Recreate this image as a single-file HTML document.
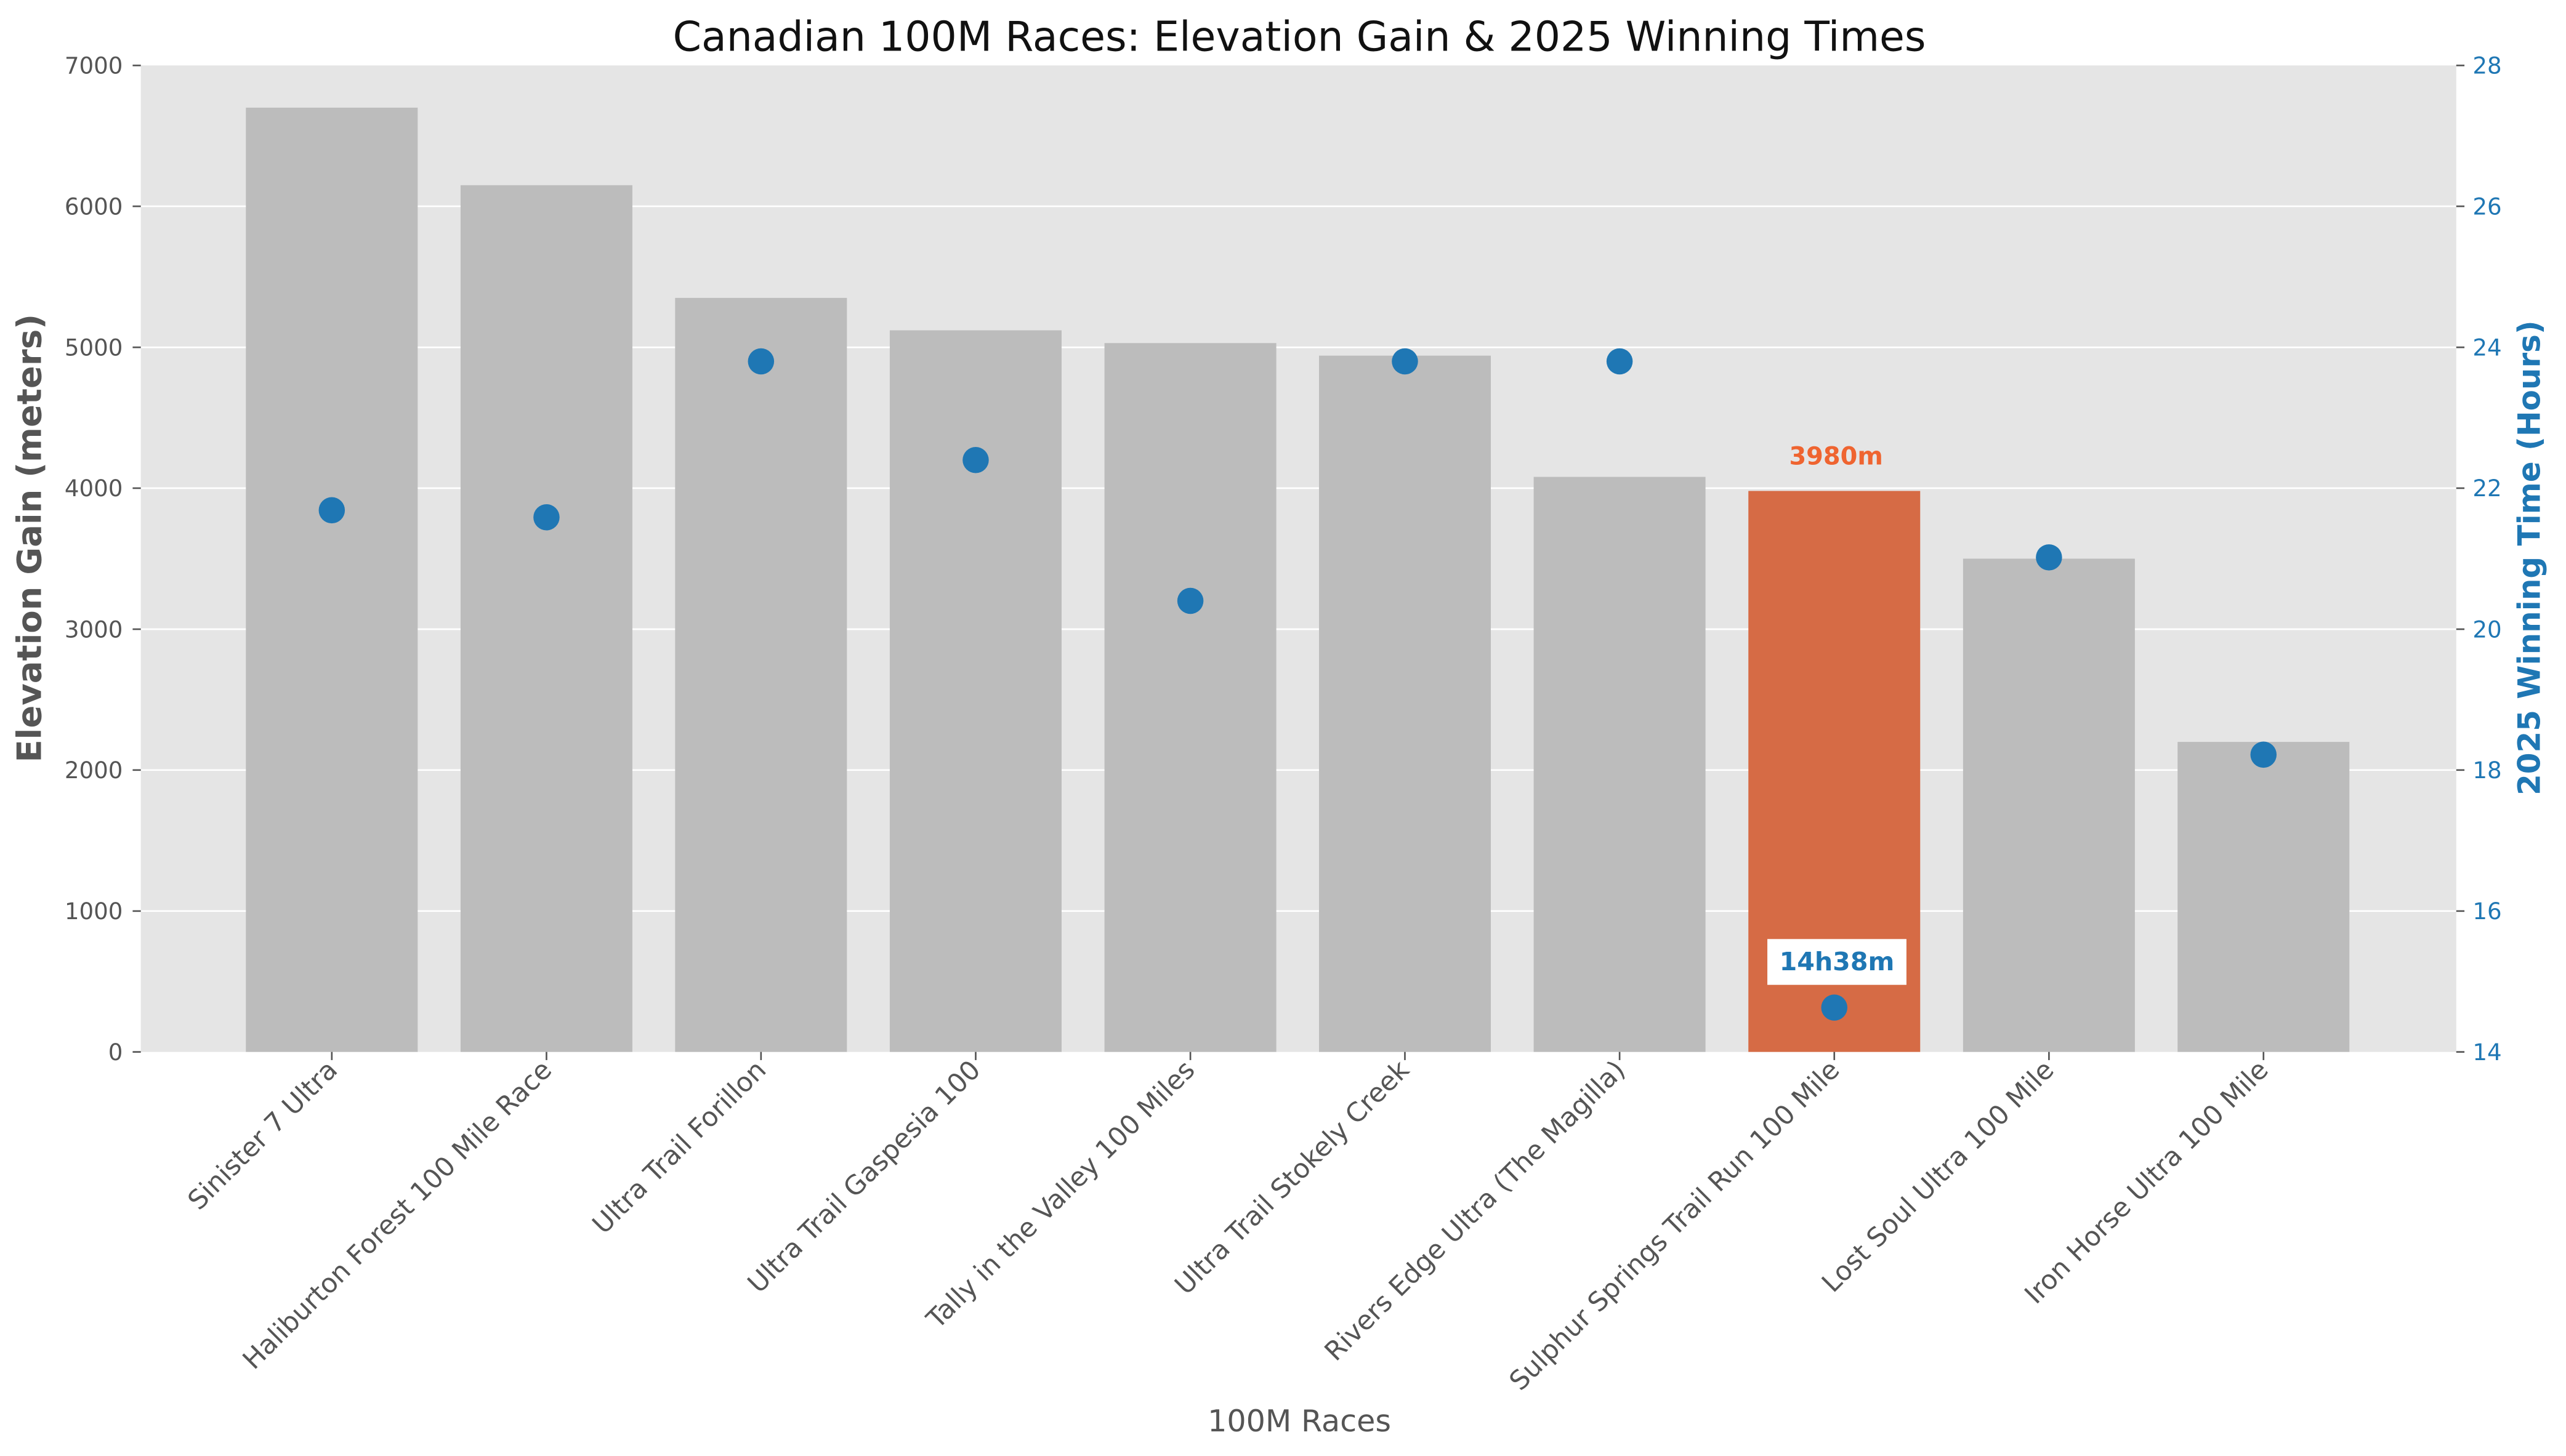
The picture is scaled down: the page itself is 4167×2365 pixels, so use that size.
<!DOCTYPE html>
<html><head><meta charset="utf-8"><style>html,body{margin:0;padding:0;background:#fff}svg{display:block}</style></head>
<body>
<svg width="4167" height="2365" viewBox="0 0 1568 890" xmlns="http://www.w3.org/2000/svg" font-family="DejaVu Sans, Liberation Sans, sans-serif">
<rect width="1568" height="890" fill="#fff"/>
<rect x="86" y="40" width="1415" height="603" fill="#e5e5e5"/>
<g stroke="#fff" stroke-width="1">
<line x1="86" x2="1501" y1="556.9" y2="556.9"/>
<line x1="86" x2="1501" y1="470.7" y2="470.7"/>
<line x1="86" x2="1501" y1="384.6" y2="384.6"/>
<line x1="86" x2="1501" y1="298.4" y2="298.4"/>
<line x1="86" x2="1501" y1="212.3" y2="212.3"/>
<line x1="86" x2="1501" y1="126.1" y2="126.1"/>
</g>
<g fill="#bcbcbc">
<rect x="150.2" y="65.8" width="105" height="577.2"/>
<rect x="281.4" y="113.2" width="105" height="529.8"/>
<rect x="412.5" y="182.1" width="105" height="460.9"/>
<rect x="543.7" y="201.9" width="105" height="441.1"/>
<rect x="674.9" y="209.7" width="105" height="433.3"/>
<rect x="806.0" y="217.4" width="105" height="425.6"/>
<rect x="937.2" y="291.5" width="105" height="351.5"/>
<rect x="1199.6" y="341.5" width="105" height="301.5"/>
<rect x="1330.7" y="453.5" width="105" height="189.5"/>
</g>
<rect x="1068.4" y="300.1" width="105" height="342.9" fill="#d66b45"/>
<text x="1122" y="284" text-anchor="middle" font-size="15" font-weight="bold" fill="#ef6430">3980m</text>
<rect x="1080" y="574" width="85" height="28" fill="#fff"/>
<text x="1122.5" y="593" text-anchor="middle" font-size="15.5" font-weight="bold" fill="#1f77b4">14h38m</text>
<g fill="#1f77b4">
<circle cx="202.7" cy="311.9" r="8"/>
<circle cx="333.9" cy="316.2" r="8"/>
<circle cx="465.0" cy="220.9" r="8"/>
<circle cx="596.2" cy="281.2" r="8"/>
<circle cx="727.4" cy="367.3" r="8"/>
<circle cx="858.5" cy="220.9" r="8"/>
<circle cx="989.7" cy="220.9" r="8"/>
<circle cx="1120.9" cy="615.9" r="8"/>
<circle cx="1252.1" cy="340.7" r="8"/>
<circle cx="1383.2" cy="461.3" r="8"/>
</g>
<g stroke="#555" stroke-width="1">
<line x1="81" x2="86" y1="643" y2="643"/><line x1="81" x2="86" y1="556.9" y2="556.9"/><line x1="81" x2="86" y1="470.7" y2="470.7"/><line x1="81" x2="86" y1="384.6" y2="384.6"/><line x1="81" x2="86" y1="298.4" y2="298.4"/><line x1="81" x2="86" y1="212.3" y2="212.3"/><line x1="81" x2="86" y1="126.1" y2="126.1"/><line x1="81" x2="86" y1="40" y2="40"/>
<line x1="1501" x2="1506" y1="643" y2="643"/><line x1="1501" x2="1506" y1="556.9" y2="556.9"/><line x1="1501" x2="1506" y1="470.7" y2="470.7"/><line x1="1501" x2="1506" y1="384.6" y2="384.6"/><line x1="1501" x2="1506" y1="298.4" y2="298.4"/><line x1="1501" x2="1506" y1="212.3" y2="212.3"/><line x1="1501" x2="1506" y1="126.1" y2="126.1"/><line x1="1501" x2="1506" y1="40" y2="40"/>
<line y1="643" y2="648" x1="202.7" x2="202.7"/><line y1="643" y2="648" x1="333.9" x2="333.9"/><line y1="643" y2="648" x1="465.0" x2="465.0"/><line y1="643" y2="648" x1="596.2" x2="596.2"/><line y1="643" y2="648" x1="727.4" x2="727.4"/><line y1="643" y2="648" x1="858.5" x2="858.5"/><line y1="643" y2="648" x1="989.7" x2="989.7"/><line y1="643" y2="648" x1="1120.9" x2="1120.9"/><line y1="643" y2="648" x1="1252.1" x2="1252.1"/><line y1="643" y2="648" x1="1383.2" x2="1383.2"/>
</g>
<g font-size="14" fill="#555" text-anchor="end">
<text x="75" y="648">0</text><text x="75" y="561.9">1000</text><text x="75" y="475.7">2000</text><text x="75" y="389.6">3000</text><text x="75" y="303.4">4000</text><text x="75" y="217.3">5000</text><text x="75" y="131.1">6000</text><text x="75" y="45">7000</text>
</g>
<g font-size="14" fill="#1f77b4">
<text x="1511" y="648">14</text><text x="1511" y="561.9">16</text><text x="1511" y="475.7">18</text><text x="1511" y="389.6">20</text><text x="1511" y="303.4">22</text><text x="1511" y="217.3">24</text><text x="1511" y="131.1">26</text><text x="1511" y="45">28</text>
</g>
<g font-size="16.2" fill="#555" text-anchor="end">
<text transform="translate(207,655) rotate(-45)">Sinister 7 Ultra</text>
<text transform="translate(338,655) rotate(-45)">Haliburton Forest 100 Mile Race</text>
<text transform="translate(469,655) rotate(-45)">Ultra Trail Forillon</text>
<text transform="translate(600,655) rotate(-45)">Ultra Trail Gaspesia 100</text>
<text transform="translate(731,655) rotate(-45)">Tally in the Valley 100 Miles</text>
<text transform="translate(862,655) rotate(-45)">Ultra Trail Stokely Creek</text>
<text transform="translate(994,655) rotate(-45)">Rivers Edge Ultra (The Magilla)</text>
<text transform="translate(1125,655) rotate(-45)">Sulphur Springs Trail Run 100 Mile</text>
<text transform="translate(1256,655) rotate(-45)">Lost Soul Ultra 100 Mile</text>
<text transform="translate(1387,655) rotate(-45)">Iron Horse Ultra 100 Mile</text>
</g>
<text x="794" y="875" text-anchor="middle" font-size="18.5" fill="#555">100M Races</text>
<text transform="translate(25,329) rotate(-90)" text-anchor="middle" font-size="20.5" font-weight="bold" fill="#555">Elevation Gain (meters)</text>
<text transform="translate(1552,341) rotate(-90)" text-anchor="middle" font-size="18.8" font-weight="bold" fill="#1f77b4">2025 Winning Time (Hours)</text>
<text x="794" y="31" text-anchor="middle" font-size="25" fill="#111">Canadian 100M Races: Elevation Gain &amp; 2025 Winning Times</text>
</svg>
</body></html>
